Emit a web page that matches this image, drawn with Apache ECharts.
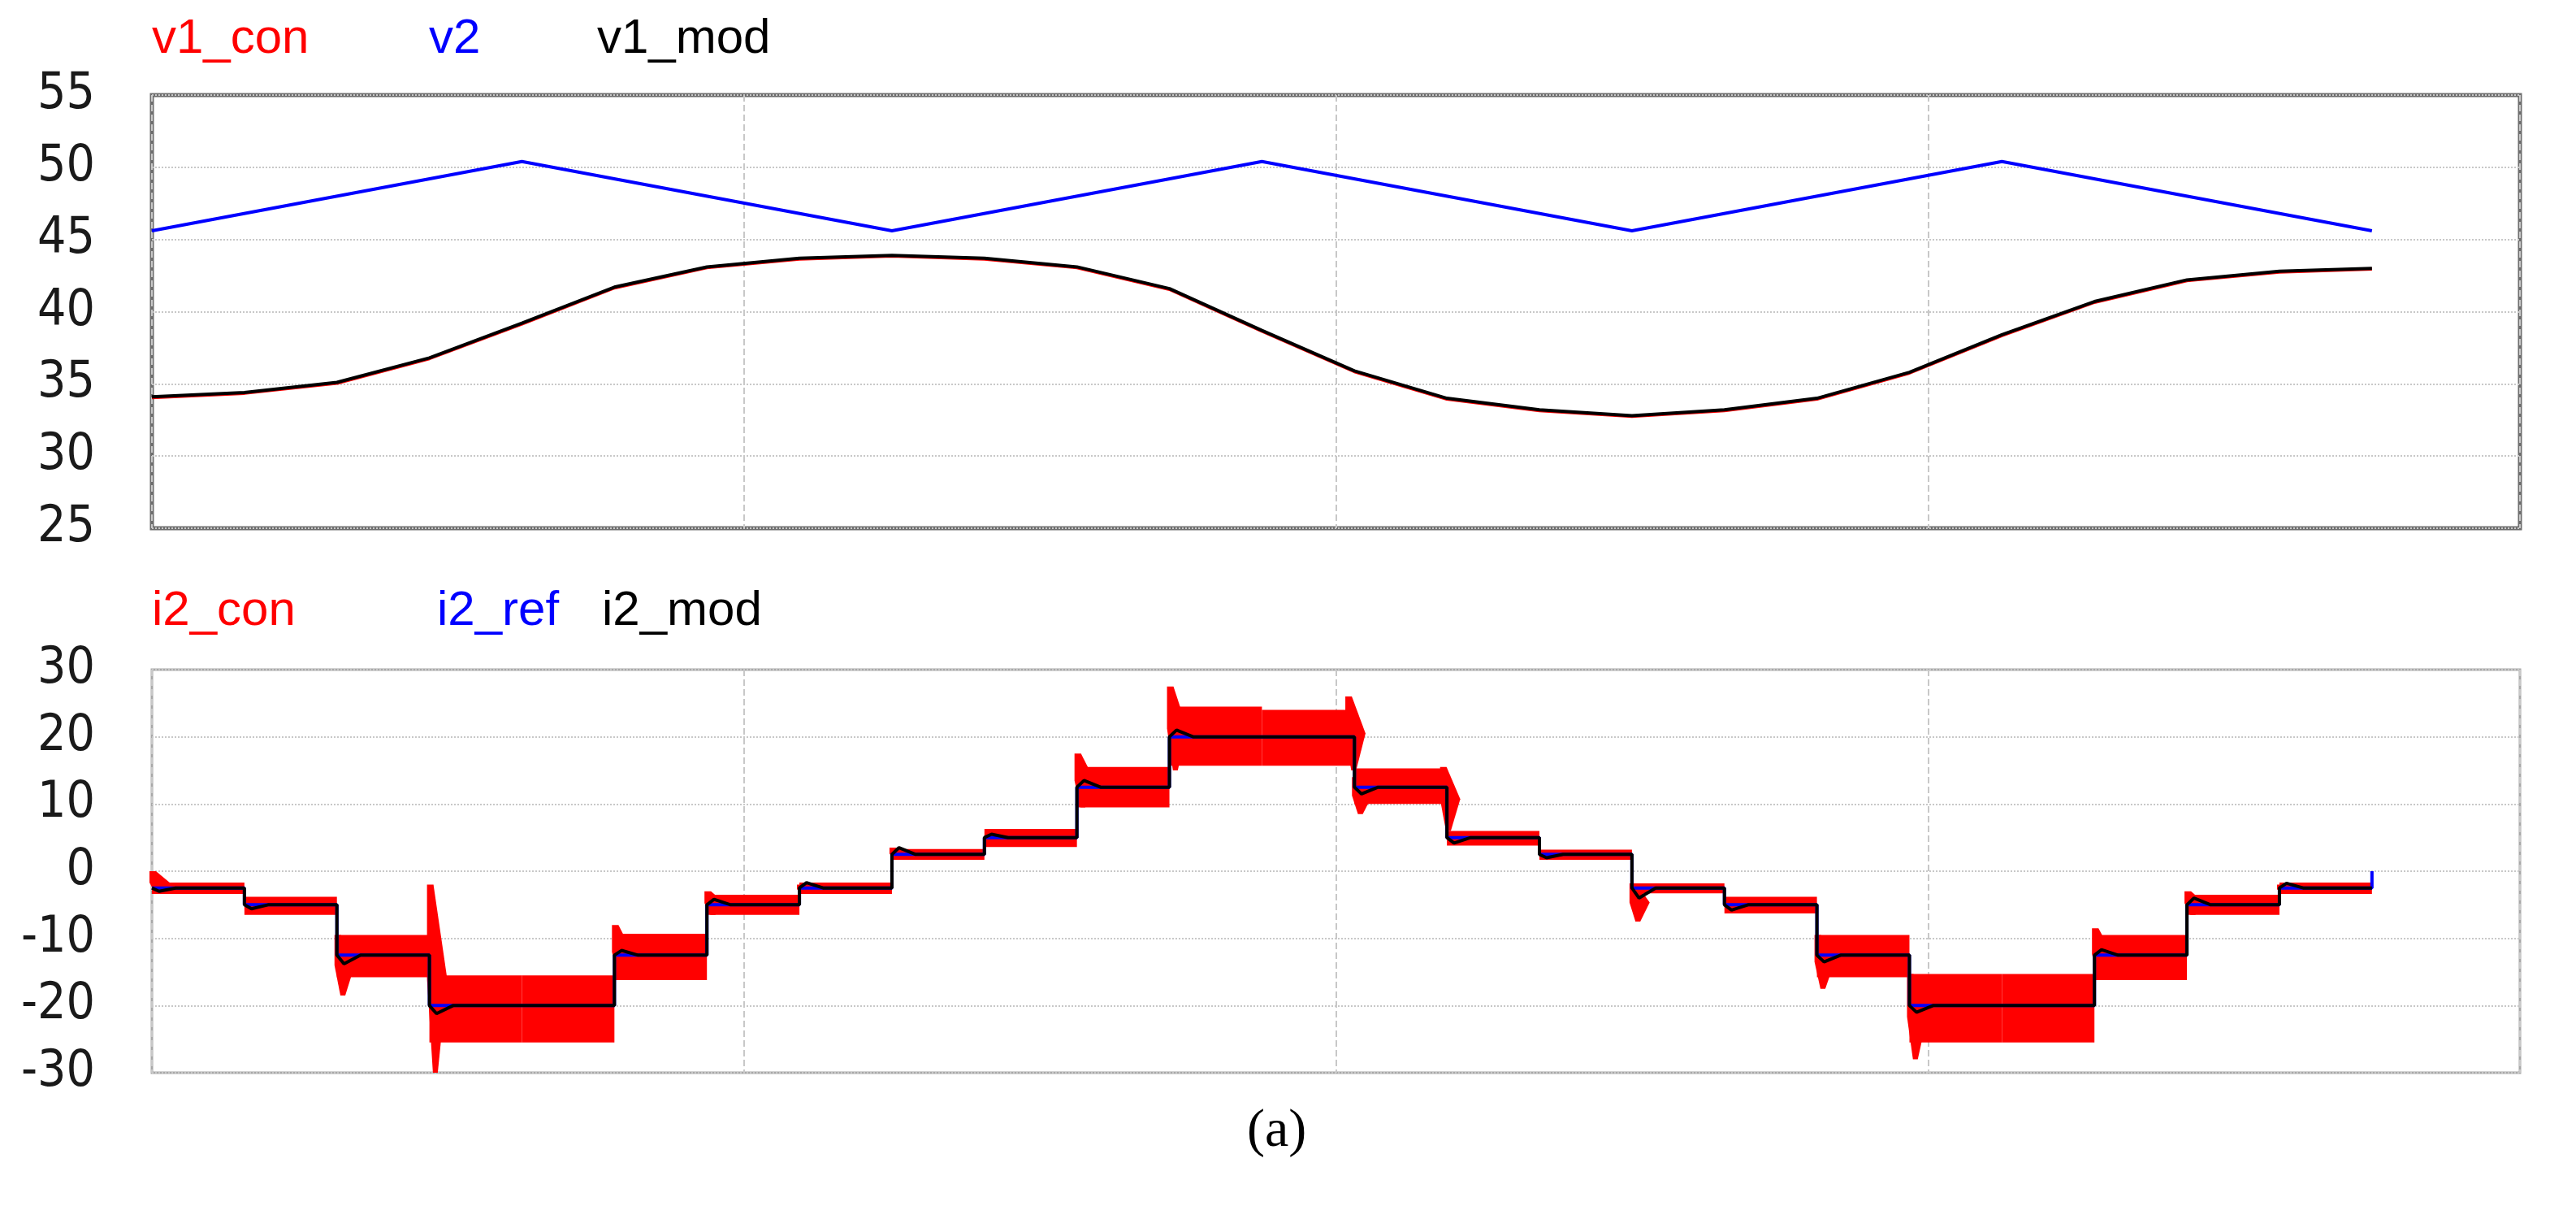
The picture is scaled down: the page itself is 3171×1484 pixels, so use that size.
<!DOCTYPE html>
<html><head><meta charset="utf-8">
<script src="https://cdn.jsdelivr.net/npm/echarts@6/dist/echarts.min.js"></script>
<style>html,body{margin:0;padding:0;background:#fff}#c{width:3171px;height:1484px}</style>
</head><body><div id="c"></div>
<script>
// Top panel
const v2X = [0, 0.625, 1.25, 1.875, 2.5, 3.125, 3.75];
const v2Y = [45.6, 50.4, 45.6, 50.4, 45.6, 50.4, 45.6];
const v1X = [0,0.15625,0.3125,0.46875,0.625,0.78125,0.9375,1.09375,1.25,1.40625,1.5625,1.71875,1.875,2.03125,2.1875,2.34375,2.5,2.65625,2.8125,2.96875,3.125,3.28125,3.4375,3.59375,3.75];
const v1Y = [34.1,34.4,35.1,36.8,39.2,41.7,43.1,43.7,43.9,43.7,43.1,41.6,38.7,35.9,34.0,33.2,32.8,33.2,34.0,35.8,38.4,40.7,42.2,42.8,43.0];
// Bottom panel: 24 segments
const segStart = [0,0.15625,0.3125,0.46875,0.625,0.78125,0.9375,1.09375,1.25,1.40625,1.5625,1.71875,1.875,2.03125,2.1875,2.34375,2.5,2.65625,2.8125,2.96875,3.125,3.28125,3.4375,3.59375];
const segEnd = 3.75;
const refLevel = [-2.5,-5,-12.5,-20,-20,-12.5,-5,-2.5,2.5,5,12.5,20,20,12.5,5,2.5,-2.5,-5,-12.5,-20,-20,-12.5,-5,-2.5];
const bandHi = [-1.7,-3.8,-9.5,-15.5,-15.5,-9.3,-3.5,-1.7,3.3,6.3,15.5,24.5,24,15.3,6,3.2,-1.8,-3.8,-9.5,-15.3,-15.3,-9.5,-3.5,-1.7];
const bandLo = [-3.4,-6.5,-15.8,-25.5,-25.5,-16.2,-6.5,-3.4,1.7,3.6,9.5,15.7,15.7,10,3.8,1.7,-3.3,-6.3,-15.8,-25.5,-25.5,-16.2,-6.5,-3.4];
// transient spikes near segment starts [x, low, high]
const spikes = [[0,-3.4,0],[0.3125,-18.5,-9.5],[0.46875,-30,-2],[0.78125,-16,-8],[0.9375,-6.5,-3],[1.09375,-3.4,-2],[1.25,1.7,3.5],[1.5625,9.5,17.5],[1.71875,15,27.5],[2.02,15,26],[2.03125,8.5,14],[2.18,6,15.5],[2.5,-7.5,-1.8],[2.8125,-17.5,-9.5],[2.96875,-28,-15.3],[3.28125,-16.2,-8.5],[3.4375,-6.5,-3],[3.59375,-3.4,-2]];
const modOvershoot = [-3,-5.6,-13.8,-21.2,-20,-11.8,-4.2,-1.7,3.5,5.5,13.5,21,20,11.5,4.2,2,-4,-5.8,-13.5,-21,-20,-11.7,-4,-1.8];

function stepData(levels, over){
  const d=[];
  for(let i=0;i<segStart.length;i++){
    const x0=segStart[i], x1=(i+1<segStart.length?segStart[i+1]:segEnd);
    d.push([x0, levels[i]]);
    if(over) d.push([x0+0.012, over[i]]);
    if(over) d.push([x0+0.04, levels[i]]);
    d.push([x1, levels[i]]);
  }
  return d;
}
const refData = stepData(refLevel);
refData.push([3.75, 0]);
const modData = stepData(refLevel, modOvershoot);

const font = '"Liberation Sans", Arial, sans-serif';
const narrow = '"Liberation Sans Narrow", "Arial Narrow", "DejaVu Sans Condensed", sans-serif';
const chart = echarts.init(document.getElementById('c'));
const xBase = {type:'value',min:0,max:4,interval:1,axisLabel:{show:false},axisTick:{show:false},
  axisLine:{show:false},splitLine:{show:true,lineStyle:{color:'#c8c8c8',type:'dashed',width:2}}};
const yBase = {type:'value',axisTick:{show:false},axisLine:{show:false},
  axisLabel:{fontFamily:narrow,fontSize:62,color:'#1a1a1a',margin:70},
  splitLine:{lineStyle:{color:'#c8c8c8',type:'dotted',width:2}}};
chart.setOption({
  animation:false,
  grid:[{left:187,right:69,top:117,height:533,show:true,borderColor:'#6e6e6e',borderWidth:5,backgroundColor:'#fff'},
        {left:187,right:69,top:824,height:496,show:true,borderColor:'#a8a8a8',borderWidth:3,backgroundColor:'#fff'}],
  xAxis:[Object.assign({gridIndex:0},xBase),Object.assign({gridIndex:1},xBase)],
  yAxis:[Object.assign({gridIndex:0,min:25,max:55,interval:5},yBase),
         Object.assign({gridIndex:1,min:-30,max:30,interval:10},yBase)],
  graphic:[
    {type:'text',left:187,top:18,style:{text:'v1_con',fill:'#ff0000',font:'60px '+font}},
    {type:'text',left:528,top:18,style:{text:'v2',fill:'#0000ff',font:'60px '+font}},
    {type:'text',left:735,top:18,style:{text:'v1_mod',fill:'#000',font:'60px '+font}},
    {type:'text',left:187,top:722,style:{text:'i2_con',fill:'#ff0000',font:'60px '+font}},
    {type:'text',left:538,top:722,style:{text:'i2_ref',fill:'#0000ff',font:'60px '+font}},
    {type:'text',left:741,top:722,style:{text:'i2_mod',fill:'#000',font:'60px '+font}},
    {type:'text',left:1535,top:1360,style:{text:'(a)',fill:'#000',font:'66px "Liberation Serif", serif'}}
  ],
  series:[
    {type:'line',xAxisIndex:0,yAxisIndex:0,data:v2X.map((x,i)=>[x,v2Y[i]]),symbol:'none',lineStyle:{color:'#0000ff',width:4}},
    {type:'line',xAxisIndex:0,yAxisIndex:0,data:v1X.map((x,i)=>[x,v1Y[i]-0.05]),symbol:'none',lineStyle:{color:'#ff0000',width:4}},
    {type:'line',xAxisIndex:0,yAxisIndex:0,data:v1X.map((x,i)=>[x,v1Y[i]]),symbol:'none',lineStyle:{color:'#000',width:4}},
    {type:'custom',xAxisIndex:1,yAxisIndex:1,
     data:segStart.map((x,i)=>[x,(i+1<segStart.length?segStart[i+1]:segEnd),bandLo[i],bandHi[i]]),
     renderItem:function(params,api){
       const p0=api.coord([api.value(0),api.value(3)]);
       const p1=api.coord([api.value(1),api.value(2)]);
       return {type:'rect',shape:{x:p0[0],y:p0[1],width:p1[0]-p0[0],height:p1[1]-p0[1]},style:{fill:'#ff0000'}};
     }},
    {type:'custom',xAxisIndex:1,yAxisIndex:1,data:spikes,
     renderItem:function(params,api){
       const x=api.value(0);
       const a=api.coord([x,api.value(2)]);
       const b=api.coord([x+0.01,api.value(1)]);
       const c=api.coord([x+0.03,(api.value(1)+api.value(2))/2]);
       return {type:'polygon',shape:{points:[[a[0]-3,a[1]],[a[0]+5,a[1]],[c[0],c[1]],[b[0]+3,b[1]],[b[0]-3,b[1]],[a[0]-3,c[1]]]},style:{fill:'#ff0000'}};
     }},
    {type:'line',xAxisIndex:1,yAxisIndex:1,data:refData,symbol:'none',lineStyle:{color:'#0000ff',width:4}},
    {type:'line',xAxisIndex:1,yAxisIndex:1,data:modData,symbol:'none',lineStyle:{color:'#000',width:4}}
  ]
});
</script></body></html>
